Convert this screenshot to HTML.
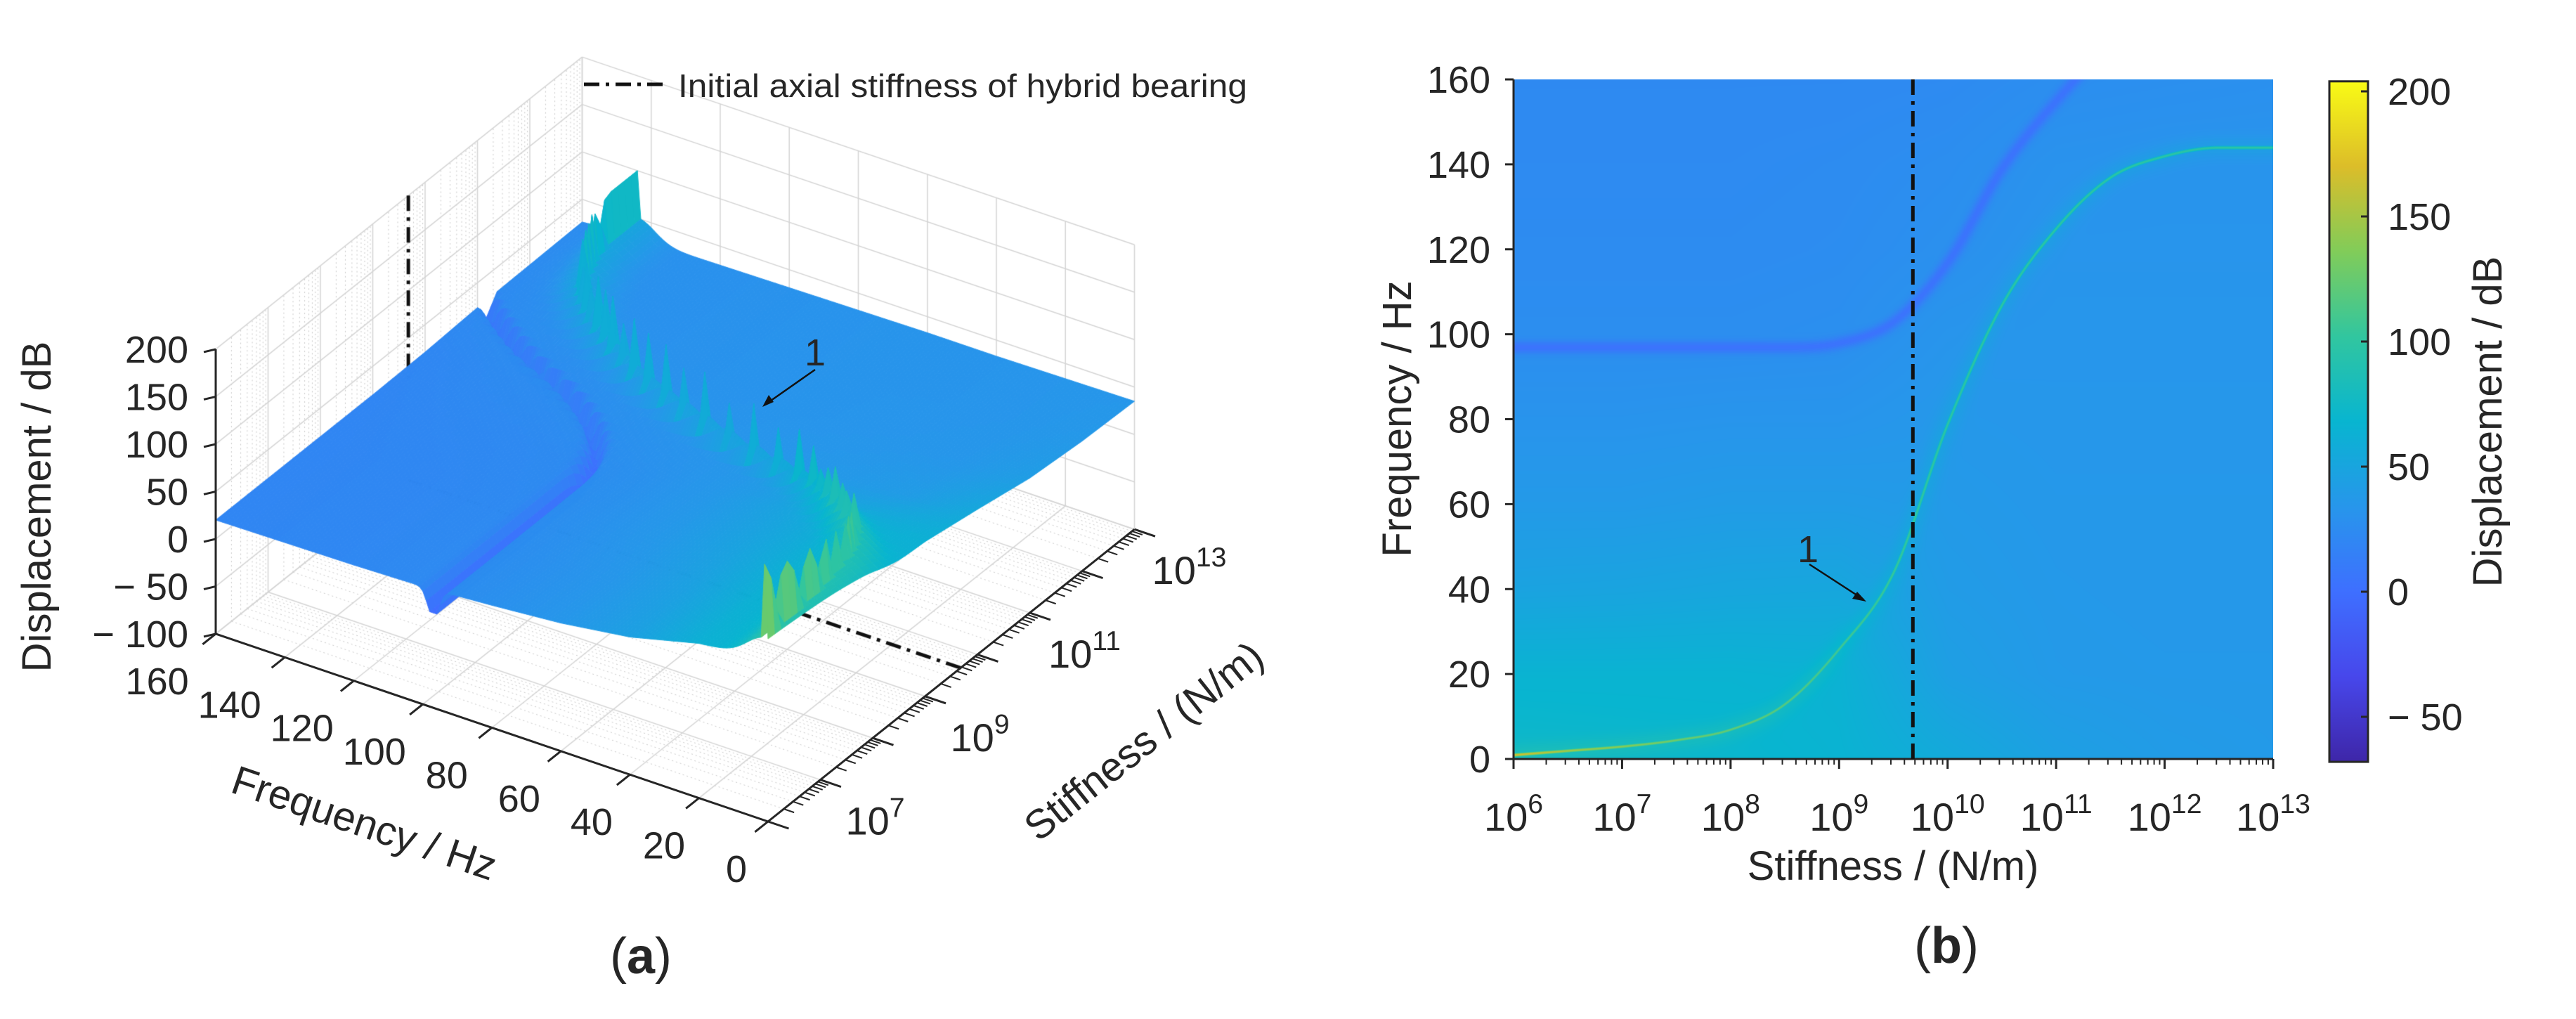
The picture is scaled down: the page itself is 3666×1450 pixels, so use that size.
<!DOCTYPE html>
<html><head><meta charset="utf-8"><style>
html,body{margin:0;padding:0;background:#fff;}
#wrap{position:relative;width:3666px;height:1450px;overflow:hidden;background:#fff;}
canvas,svg{position:absolute;left:0;top:0;}
text{font-family:"Liberation Sans",sans-serif;fill:#262626;}
</style></head><body>
<div id="wrap">
<canvas id="cA" width="1900" height="1450"></canvas>
<canvas id="cB" width="1081" height="967" style="left:2154px;top:113px"></canvas>
<svg id="ov" width="3666" height="1450" viewBox="0 0 3666 1450">
<defs>
<linearGradient id="parulaGrad" x1="0" y1="1" x2="0" y2="0">
<stop offset="0" stop-color="rgb(62,38,168)"/><stop offset="0.125" stop-color="rgb(71,71,235)"/>
<stop offset="0.25" stop-color="rgb(62,111,255)"/><stop offset="0.375" stop-color="rgb(39,150,235)"/>
<stop offset="0.5" stop-color="rgb(8,181,208)"/><stop offset="0.625" stop-color="rgb(49,198,159)"/>
<stop offset="0.75" stop-color="rgb(129,204,89)"/><stop offset="0.875" stop-color="rgb(220,189,41)"/>
<stop offset="1" stop-color="rgb(249,251,21)"/></linearGradient>
</defs>
</svg>
</div>
<script>
// ---- data ----
const kDec=[6,6.5,7,7.5,8,8.5,9,9.5,10,10.5,11,11.5,12,12.5,13];
const resFreq=[1,2,3,4.5,7,13,26,44,79,107,125,137,142,144,144];
const antiFreq=[97,97,97,97,97,97,98,103,117,139,155,168,172,172,172];
const ridgePeak=[170,150,140,130,125,120,110,105,100,100,100,100,100,100,100];
const gridFreq=[0,20,40,60,80,100,120,140,160];
const gridDec=[6,7,8,9,10,11,12,13];
const zGrid=[
[74,72,70,66,56,45,40,38],
[66,66,66,64,44,38,37,37],
[48,49,51,52,40,37,36,36],
[38,38,40,40,38,36,36,36],
[32,32,33,33,36,35,35,35],
[27,27,27,28,33,34,34,34],
[25,25,25,26,29,33,33,33],
[24,24,24,25,27,31,32,32],
[23,23,23,23,24,27,28,29]];
const dipLevel=0;
const initialStiffnessDec=9.68;
const freqTicksB=[0,20,40,60,80,100,120,140,160];
const expTicksB=[6,7,8,9,10,11,12,13];
const cbTicks=[-50,0,50,100,150,200];
const zTicksA=[-100,-50,0,50,100,150,200];
const freqTicksA=[0,20,40,60,80,100,120,140,160];
const stiffLabelsA=[7,9,11,13];

const CMIN=-68,CMAX=204;
const PAR=[[62,38,168],[71,71,235],[62,111,255],[39,150,235],[8,181,208],[49,198,159],[129,204,89],[220,189,41],[249,251,21]];
function cmap(v){let t=(v-CMIN)/(CMAX-CMIN);t=Math.max(0,Math.min(1,t))*8;let i=Math.min(7,Math.floor(t)),u=t-i;
 const a=PAR[i],b=PAR[i+1];return [a[0]+(b[0]-a[0])*u,a[1]+(b[1]-a[1])*u,a[2]+(b[2]-a[2])*u];}
function interp(xs,ys,x){if(x<=xs[0])return ys[0];for(let i=1;i<xs.length;i++){if(x<=xs[i]){const u=(x-xs[i-1])/(xs[i]-xs[i-1]);return ys[i-1]+(ys[i]-ys[i-1])*u;}}return ys[ys.length-1];}
// monotone cubic (Fritsch-Carlson)
function makeMono(xs,ys){const n=xs.length,dl=[],m=new Array(n);
 for(let i=0;i<n-1;i++)dl.push((ys[i+1]-ys[i])/(xs[i+1]-xs[i]));
 m[0]=dl[0];m[n-1]=dl[n-2];
 for(let i=1;i<n-1;i++){m[i]=(dl[i-1]*dl[i]<=0)?0:(dl[i-1]+dl[i])/2;}
 for(let i=0;i<n-1;i++){if(dl[i]===0){m[i]=0;m[i+1]=0;continue;}const a=m[i]/dl[i],b=m[i+1]/dl[i],s=a*a+b*b;if(s>9){const t=3/Math.sqrt(s);m[i]=t*a*dl[i];m[i+1]=t*b*dl[i];}}
 return function(x){if(x<=xs[0])return ys[0];if(x>=xs[n-1])return ys[n-1];let i=0;while(x>xs[i+1])i++;
  const h=xs[i+1]-xs[i],t=(x-xs[i])/h,t2=t*t,t3=t2*t;
  return (2*t3-3*t2+1)*ys[i]+(t3-2*t2+t)*h*m[i]+(-2*t3+3*t2)*ys[i+1]+(t3-t2)*h*m[i+1];};}
const resAt=makeMono(kDec,resFreq), antiAt=makeMono(kDec,antiFreq), peakAt=d=>interp(kDec,ridgePeak,d);
function bg(f,d){
 let fi=Math.max(0,Math.min(7.999,f/20)),di=Math.max(0,Math.min(6.999,d-6));
 let i=Math.floor(fi),j=Math.floor(di),u=fi-i,w=di-j;
 return zGrid[i][j]*(1-u)*(1-w)+zGrid[i+1][j]*u*(1-w)+zGrid[i][j+1]*(1-u)*w+zGrid[i+1][j+1]*u*w;}

// ---- panel b heatmap ----
(function(){
 const cv=document.getElementById('cB'),ctx=cv.getContext('2d');const W=cv.width,H=cv.height;
 const img=ctx.createImageData(W,H);const pxHz=H/160;
 for(let x=0;x<W;x++){
  const d=6+7*x/W, d1=6+7*(x+1)/W, d0=6+7*(x-1)/W;
  const rf=resAt(d),af=antiAt(d),pk=peakAt(d);
  const rs=(resAt(d1)-resAt(d0))/2*pxHz, as=(antiAt(d1)-antiAt(d0))/2*pxHz;
  const rc=1/Math.sqrt(1+rs*rs), ac=1/Math.sqrt(1+as*as);
  for(let y=0;y<H;y++){
   const f=160*(1-y/H);let z=bg(f,d);
   const da=Math.abs(f-af)*pxHz*ac; z=z-(z-dipLevel)*0.85*Math.exp(-Math.pow(da/9,2));
   const dr=Math.abs(f-rf)*pxHz*rc;
   z+=10*Math.exp(-Math.pow(dr/16,2));
   z=Math.max(z,pk*Math.exp(-Math.pow(dr/3.4,2)));
   const c=cmap(z);const k=(y*W+x)*4;img.data[k]=c[0];img.data[k+1]=c[1];img.data[k+2]=c[2];img.data[k+3]=255;}
 }
 ctx.putImageData(img,0,0);
})();

// ---- panel a 3D ----
const F0=[1093,1169],FV=[-4.9125,-1.669],KV=[74.5,-59.4],ZV=-1.35;
function P(f,d,z){return [F0[0]+FV[0]*f+KV[0]*d, F0[1]+FV[1]*f+KV[1]*d+ZV*(z+100)];}
function zA(f,D){const d=D+6;let z=bg(f,d)-3;const af=antiAt(d),rf=resAt(d);
 z=z-(z+8)*Math.exp(-Math.pow((f-af)/2.2,2));
 z+=22*Math.exp(-Math.pow((f-rf)/7,2));
 z=Math.max(z,peakAt(d)*Math.exp(-Math.pow((f-rf)/0.8,2)));
 return Math.min(z,200);}
(function(){
 const ctx=document.getElementById('cA').getContext('2d');
 function line(a,b,col,w,dash){ctx.beginPath();ctx.strokeStyle=col;ctx.lineWidth=w;ctx.setLineDash(dash||[]);ctx.moveTo(a[0],a[1]);ctx.lineTo(b[0],b[1]);ctx.stroke();}
 const minor=[];for(let d=0;d<7;d++)for(let m=2;m<10;m++)minor.push(d+Math.log10(m));
 for(const d of minor)line(P(0,d,-100),P(160,d,-100),'#c8c8c8',1,[2,4]);
 for(let f=0;f<=160;f+=20)line(P(f,0,-100),P(f,7,-100),'#d4d4d4',1.5);
 for(let d=0;d<=7;d++)line(P(0,d,-100),P(160,d,-100),'#d4d4d4',1.5);
 for(const d of minor)line(P(160,d,-100),P(160,d,200),'#c8c8c8',1,[2,4]);
 for(let d=0;d<=7;d++)line(P(160,d,-100),P(160,d,200),'#d4d4d4',1.5);
 for(let z=-100;z<=200;z+=50)line(P(160,0,z),P(160,7,z),'#d4d4d4',1.5);
 for(let f=0;f<=160;f+=20)line(P(f,7,-100),P(f,7,200),'#d4d4d4',1.5);
 for(let z=-100;z<=200;z+=50)line(P(0,7,z),P(160,7,z),'#d4d4d4',1.5);
 const di=initialStiffnessDec-6;
 line(P(160,di,200),P(160,di,0),'#111',5,[22,9,5,9]);
 line(P(0,di,-100),P(160,di,-100),'#111',5,[22,9,5,9]);
 const fs=[],ds=[];for(let f=0;f<=160;f+=1)fs.push(f);for(let d=0;d<=7.0001;d+=0.125)ds.push(d);
 const Z=fs.map(f=>ds.map(d=>zA(f,d)));
 const quads=[];
 for(let i=0;i<fs.length-1;i++)for(let j=0;j<ds.length-1;j++)quads.push([i,j,1.669*(fs[i]+0.5)+59.4*(ds[j]+0.0625)]);
 quads.sort((a,b)=>b[2]-a[2]);ctx.setLineDash([]);
 for(const [i,j] of quads){
  const zs=[Z[i][j],Z[i+1][j],Z[i+1][j+1],Z[i][j+1]];
  const p=[P(fs[i],ds[j],zs[0]),P(fs[i+1],ds[j],zs[1]),P(fs[i+1],ds[j+1],zs[2]),P(fs[i],ds[j+1],zs[3])];
  const c=cmap((zs[0]+zs[1]+zs[2]+zs[3])/4),col='rgb('+(c[0]|0)+','+(c[1]|0)+','+(c[2]|0)+')';
  ctx.beginPath();ctx.moveTo(p[0][0],p[0][1]);for(let k=1;k<4;k++)ctx.lineTo(p[k][0],p[k][1]);ctx.closePath();
  ctx.fillStyle=col;ctx.strokeStyle=col;ctx.lineWidth=1;ctx.fill();ctx.stroke();}
})();

// ---- SVG overlay ----
const NS='http://www.w3.org/2000/svg',ov=document.getElementById('ov');
function el(tag,attrs,txt){const e=document.createElementNS(NS,tag);for(const k in attrs)e.setAttribute(k,attrs[k]);if(txt!==undefined)e.textContent=txt;ov.appendChild(e);return e;}
function ln(a,b,w,name){const e=el('line',{x1:a[0],y1:a[1],x2:b[0],y2:b[1],stroke:'#262626','stroke-width':w||3});
 
 return e;}
function pow10(x,y,e,size,name,anchor){const t=el('text',{x:x,y:y,'font-size':size,'text-anchor':anchor||'middle'});
 t.innerHTML='10<tspan dy="-'+(size*0.45)+'" font-size="'+(size*0.7)+'">'+e+'</tspan>';
 
 return t;}
function fmt(v){return v<0?'\u2212 '+Math.abs(v):String(v);}

const BX0=2154,BX1=3235,BY0=113,BY1=1080;
const bx=d=>BX0+(d-6)/7*(BX1-BX0), by=f=>BY1-f/160*(BY1-BY0);
ln([BX0,BY0],[BX0,BY1],3,'y-axis-line');
ln([BX0,BY1],[BX1,BY1],3,'x-axis-line');
for(const f of freqTicksB){ln([BX0-12,by(f)],[BX0,by(f)],3,'y-tick');
 const t=el('text',{x:2121,y:by(f)+19,'font-size':54,'text-anchor':'end'},String(f));
 
 }
for(const e of expTicksB){ln([bx(e),BY1],[bx(e),BY1+14],3,'x-tick');pow10(bx(e),1182,e,56,'x-tick-label');
 if(e<13)for(let m=2;m<10;m++){const x=bx(e+Math.log10(m));ln([x,BY1],[x,BY1+8],2,'x-minor-tick');}}
{const t=el('text',{x:2694,y:1252,'font-size':58,'text-anchor':'middle'},'Stiffness / (N/m)');
 }
{const t=el('text',{x:0,y:0,'font-size':58,'text-anchor':'middle',transform:'translate(2008,596) rotate(-90)'},'Frequency / Hz');
 }
{const e=el('line',{x1:bx(initialStiffnessDec),y1:BY0,x2:bx(initialStiffnessDec),y2:BY1,stroke:'#111','stroke-width':5,'stroke-dasharray':'22 9 5 9'});
 }
{const t=el('text',{x:2573,y:800,'font-size':54,'font-family':'Liberation Serif','text-anchor':'middle'},'1');
 
 const a=el('line',{x1:2575,y1:803,x2:2652,y2:853,stroke:'#111','stroke-width':2.5});
 
 const h=el('polygon',{points:'2656,856 2636,852 2643,842',fill:'#111'});
 }
const CY=v=>130+(200-v)*(178/50);
{const r=el('rect',{x:3315,y:CY(204),width:55,height:CY(-68)-CY(204),fill:'url(#parulaGrad)',stroke:'#262626','stroke-width':3});
 }
for(const v of cbTicks){ln([3360,CY(v)],[3370,CY(v)],3,'colorbar-tick');
 const t=el('text',{x:3398,y:CY(v)+19,'font-size':54},fmt(v));
 }
{const t=el('text',{x:0,y:0,'font-size':58,'text-anchor':'middle',transform:'translate(3560,600) rotate(-90)'},'Displacement / dB');
 }
{const t=el('text',{x:2770,y:1370,'font-size':72,'font-family':'Liberation Serif','text-anchor':'middle'});
 t.innerHTML='(<tspan font-weight="bold">b</tspan>)';
 }

const zy=z=>P(160,0,z);
ln(zy(-100),zy(200),3,'z-axis-line');
for(const z of zTicksA){const p=zy(z);ln([p[0]-17,p[1]+4],p,3,'z-tick');
 const t=el('text',{x:268,y:p[1]+19,'font-size':54,'text-anchor':'end'},fmt(z));
 }
ln(P(160,0,-100),P(0,0,-100),3,'frequency-axis-line');
for(const f of freqTicksA){const a=P(f,0,-100);ln(a,P(f,-0.25,-100),3,'frequency-tick');
 const t=el('text',{x:a[0]-45-0.24*f,y:a[1]+86,'font-size':54,'text-anchor':'middle'},String(f));
 }
ln(P(0,0,-100),P(0,7,-100),3,'stiffness-axis-line');
for(let d=0;d<=7;d++){ln(P(0,d,-100),P(-6,d,-100),3,'stiffness-tick');
 if(d<7)for(let m=2;m<10;m++){const dd=d+Math.log10(m);ln(P(0,dd,-100),P(-3,dd,-100),2,'stiffness-minor-tick');}}
for(const e of stiffLabelsA){const a=P(0,e-6,-100);pow10(a[0]+78,a[1]+78,e,56,'stiffness-tick-label');}
{const t=el('text',{x:0,y:0,'font-size':58,'text-anchor':'middle',transform:'translate(72,721) rotate(-90)'},'Displacement / dB');
 }
{const t=el('text',{x:0,y:0,'font-size':58,'text-anchor':'middle',transform:'translate(512,1190) rotate(18.8)'},'Frequency / Hz');
 }
{const t=el('text',{x:0,y:0,'font-size':58,'text-anchor':'middle',transform:'translate(1640,1070) rotate(-38.5)'},'Stiffness / (N/m)');
 }
{const l=el('line',{x1:831,y1:120,x2:952,y2:120,stroke:'#111','stroke-width':5,'stroke-dasharray':'22 9 5 9'});
 
 const t=el('text',{x:965,y:138,'font-size':46,textLength:810,lengthAdjust:'spacingAndGlyphs'},'Initial axial stiffness of hybrid bearing');
 }
{const t=el('text',{x:1160,y:520,'font-size':54,'font-family':'Liberation Serif','text-anchor':'middle'},'1');
 
 const a=el('line',{x1:1160,y1:526,x2:1090,y2:575,stroke:'#111','stroke-width':2.5});
 
 const h=el('polygon',{points:'1085,579 1094,562 1101,572',fill:'#111'});
 }
{const t=el('text',{x:912,y:1385,'font-size':72,'font-family':'Liberation Serif','text-anchor':'middle'});
 t.innerHTML='(<tspan font-weight="bold">a</tspan>)';
 }
</script>
</body></html>
